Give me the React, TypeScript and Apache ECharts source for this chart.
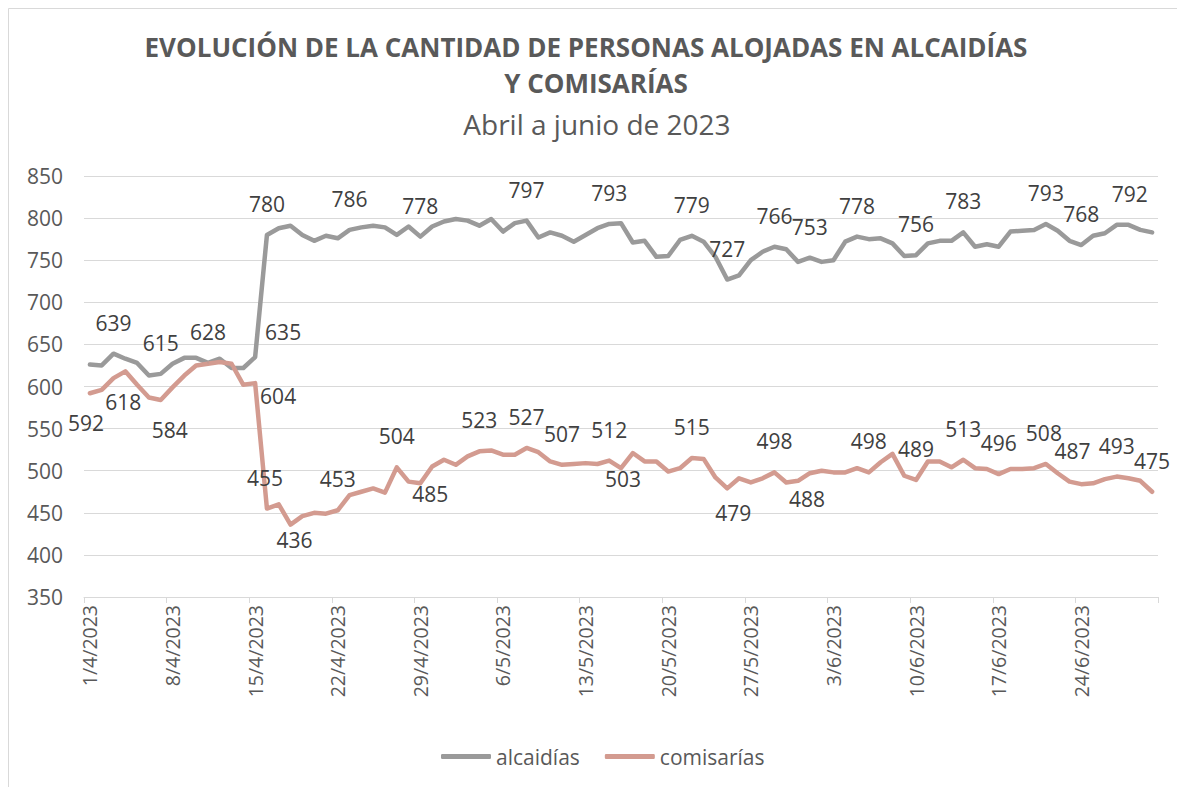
import React, { useEffect, useRef } from "react";
import * as echarts from "echarts";

// ---- categories: daily dates from 1/4/2023 to 30/6/2023 ----
const monthDays: [number, number][] = [[4, 30], [5, 31], [6, 30]];
const categories: string[] = [];
for (const [m, n] of monthDays) for (let d = 1; d <= n; d++) categories.push(`${d}/${m}/2023`);

// ---- series values ----
const alcaidias = [
  626, 625, 639, 633, 628, 613, 615, 627, 634, 634,
  628, 633, 622, 622, 635, 780, 788, 791, 780, 773,
  779, 776, 786, 789, 791, 789, 780, 790, 778, 790,
  796, 799, 797, 791, 799, 784, 794, 797, 777, 783,
  779, 772, 780, 788, 793, 794, 771, 773, 754, 755,
  774, 779, 772, 754, 727, 732, 750, 760, 766, 763,
  748, 753, 748, 750, 772, 778, 775, 776, 770, 755,
  756, 770, 773, 773, 783, 766, 769, 766, 784, 785,
  786, 793, 785, 773, 768, 779, 782, 792, 792, 786,
  783,
];
const comisarias = [
  592, 596, 610, 618, 602, 587, 584, 599, 613, 625,
  627, 629, 627, 602, 604, 455, 460, 436, 446, 450,
  449, 453, 471, 475, 479, 474, 504, 487, 485, 505,
  513, 507, 517, 523, 524, 519, 519, 527, 522, 511,
  507, 508, 509, 508, 512, 503, 521, 511, 511, 499,
  503, 515, 514, 492, 479, 491, 486, 491, 498, 486,
  488, 497, 500, 498, 498, 503, 498, 510, 520, 494,
  489, 511, 511, 504, 513, 503, 502, 496, 502, 502,
  503, 508, 497, 487, 484, 485, 490, 493, 491, 488,
  475,
];

// indices of points that carry a data label
const alcLabelIdx = [2, 6, 10, 14, 15, 22, 28, 37, 44, 51, 54, 58, 61, 65, 70, 74, 81, 84, 87];
const comLabelIdx = [0, 3, 6, 14, 15, 17, 21, 26, 28, 33, 37, 40, 44, 45, 51, 54, 58, 60, 66, 70, 74, 77, 81, 83, 87, 90];

// label placement tweaks (style only)
const alcLabelShift: Record<number, [number, number]> = { 14: [28, 6], 87: [13, 0] };
const comLabelShift: Record<number, [number, number]> = {
  0: [-4, 61], 3: [-2, 62], 6: [9, 61], 14: [23, 44], 15: [-2, 0], 17: [4, 46],
  28: [10, 42], 45: [2, 42], 54: [6, 56], 60: [9, 49], 81: [-2, 0], 83: [3, 0],
};

const FONT = "'Open Sans', 'Liberation Sans', Arial, sans-serif";
const TEXT = "#595959";
const GRAY = "#9a9a9a";
const PINK = "#d39b90";

function buildData(vals: number[], idx: number[]) {
  return vals.map((v, i) =>
    idx.includes(i)
      ? {
          value: v,
          label: {
            show: true,
            position: "top",
            distance: 20,
            color: "#404040",
            fontSize: 21,
            fontFamily: FONT,
          },
        }
      : { value: v, label: { show: false } }
  );
}

function layoutFor(shift: Record<number, [number, number]>) {
  return (p: any) => {
    const s = shift[p.dataIndex];
    return s ? { dx: s[0], dy: s[1], hideOverlap: false } : { hideOverlap: false };
  };
}

export default function App() {
  const ref = useRef<HTMLDivElement>(null);
  useEffect(() => {
    if (!ref.current) return;
    const chart = echarts.init(ref.current, undefined, { renderer: "svg" });
    chart.setOption({
      animation: false,
      backgroundColor: "#ffffff",
      graphic: [
        {
          type: "rect",
          shape: { x: 8.5, y: 8.5, width: 1300, height: 900 },
          style: { fill: "none", stroke: "#d9d9d9", lineWidth: 1 },
          silent: true,
        },
        {
          type: "text",
          style: {
            text: "EVOLUCIÓN DE LA CANTIDAD DE PERSONAS ALOJADAS EN ALCAIDÍAS",
            x: 586, y: 47, align: "center", verticalAlign: "middle",
            font: `bold 26px ${FONT}`, fill: TEXT,
          },
        },
        {
          type: "text",
          style: {
            text: "Y COMISARÍAS",
            x: 596, y: 83, align: "center", verticalAlign: "middle",
            font: `bold 26px ${FONT}`, fill: TEXT,
          },
        },
        {
          type: "text",
          style: {
            text: "Abril a junio de 2023",
            x: 597, y: 124, align: "center", verticalAlign: "middle",
            font: `28px ${FONT}`, fill: TEXT,
          },
        },
      ],
      grid: { left: 84, right: 19, top: 176, bottom: 190, containLabel: false },
      legend: {
        left: 436,
        top: 741,
        icon: "roundRect",
        itemWidth: 50,
        itemHeight: 5,
        itemGap: 25,
        textStyle: { color: TEXT, fontSize: 21, fontFamily: FONT },
        data: ["alcaidías", "comisarías"],
      },
      xAxis: {
        type: "category",
        data: categories,
        boundaryGap: true,
        axisLine: { lineStyle: { color: "#d9d9d9", width: 1 } },
        axisTick: { show: true, interval: 6, length: 6, lineStyle: { color: "#d9d9d9" } },
        axisLabel: {
          interval: 6,
          rotate: 90,
          margin: 8,
          color: TEXT,
          fontSize: 19.5,
          fontFamily: FONT,
        },
        splitLine: { show: false },
      },
      yAxis: {
        type: "value",
        min: 350,
        max: 850,
        interval: 50,
        axisLine: { show: false },
        axisTick: { show: false },
        axisLabel: { color: TEXT, fontSize: 21, fontFamily: FONT, margin: 21 },
        splitLine: { lineStyle: { color: "#d9d9d9", width: 1 } },
      },
      series: [
        {
          name: "alcaidías",
          type: "line",
          data: buildData(alcaidias, alcLabelIdx),
          symbol: "circle",
          symbolSize: 1,
          showSymbol: true,
          showAllSymbol: true,
          labelLayout: layoutFor(alcLabelShift),
          itemStyle: { color: GRAY },
          lineStyle: { color: GRAY, width: 4.5, join: "round", cap: "round" },
        },
        {
          name: "comisarías",
          type: "line",
          data: buildData(comisarias, comLabelIdx),
          symbol: "circle",
          symbolSize: 1,
          showSymbol: true,
          showAllSymbol: true,
          labelLayout: layoutFor(comLabelShift),
          itemStyle: { color: PINK },
          lineStyle: { color: PINK, width: 4.5, join: "round", cap: "round" },
        },
      ],
    });
    return () => chart.dispose();
  }, []);
  return (
    <div
      ref={ref}
      style={{ position: "fixed", left: 0, top: 0, width: 1177, height: 787, background: "#fff" }}
    />
  );
}
